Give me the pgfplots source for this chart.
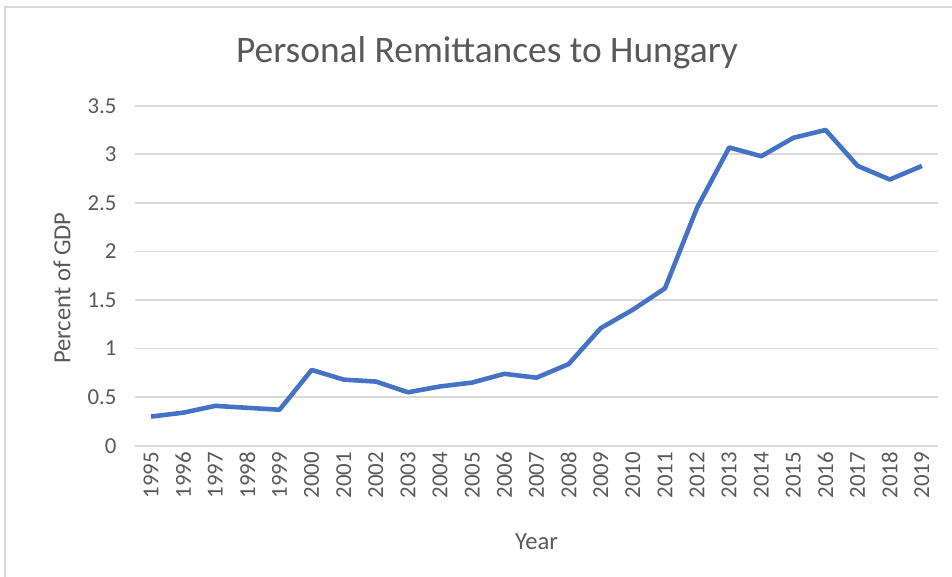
\documentclass[border=0pt]{standalone}
\usepackage{fontspec}
\setmainfont{Carlito}
\usepackage{pgfplots}
\pgfplotsset{compat=1.18}
\definecolor{LineBlue}{HTML}{4472C4}
\definecolor{TxtGray}{HTML}{595959}
\definecolor{GridGray}{HTML}{D9D9D9}

\begin{document}
\begin{tikzpicture}
% frame of the chart area (image is 952x577 px, 1px = 0.02cm)
\useasboundingbox (-2.70,-2.626) rectangle (16.34,8.914);
\draw[GridGray,line width=0.8pt] (-2.60,-2.70) -- (-2.60,8.77) -- (16.5,8.77);
\begin{axis}[
  at={(0,0)},anchor=south west,
  scale only axis,width=16.06cm,height=6.8cm,
  xmin=1994.5,xmax=2019.5,ymin=0,ymax=3.5,
  xtick={1995,...,2019},ytick={0,0.5,...,3.5},
  axis line style={draw=none},
  axis x line*=bottom,axis y line*=left,
  tick style={draw=none},
  ymajorgrids,grid style={GridGray,line width=1pt},
  /pgf/number format/assume math mode=true,
  /pgf/number format/1000 sep={},
  ticklabel style={font=\fontsize{13}{15}\selectfont,text=TxtGray},
  xticklabel style={rotate=90,anchor=east},
  yticklabel style={xshift=-7pt},
  clip=false]
\addplot[LineBlue,line width=2.6pt,line join=round] coordinates {
  (1995,0.30) (1996,0.34) (1997,0.41) (1998,0.39) (1999,0.37)
  (2000,0.78) (2001,0.68) (2002,0.66) (2003,0.55) (2004,0.61)
  (2005,0.65) (2006,0.74) (2007,0.70) (2008,0.84) (2009,1.21)
  (2010,1.40) (2011,1.62) (2012,2.45) (2013,3.07) (2014,2.98)
  (2015,3.17) (2016,3.25) (2017,2.88) (2018,2.74) (2019,2.88)};
\end{axis}
\node[text=TxtGray,font=\fontsize{21.3}{24}\selectfont,anchor=center] at (7.04,7.85) {Personal Remittances to Hungary};
\node[text=TxtGray,font=\fontsize{14}{16}\selectfont,rotate=90,anchor=center] at (-1.46,3.15) {Percent of GDP};
\node[text=TxtGray,font=\fontsize{14}{16}\selectfont,anchor=center] at (8.03,-1.92) {Year};
\end{tikzpicture}
\end{document}
